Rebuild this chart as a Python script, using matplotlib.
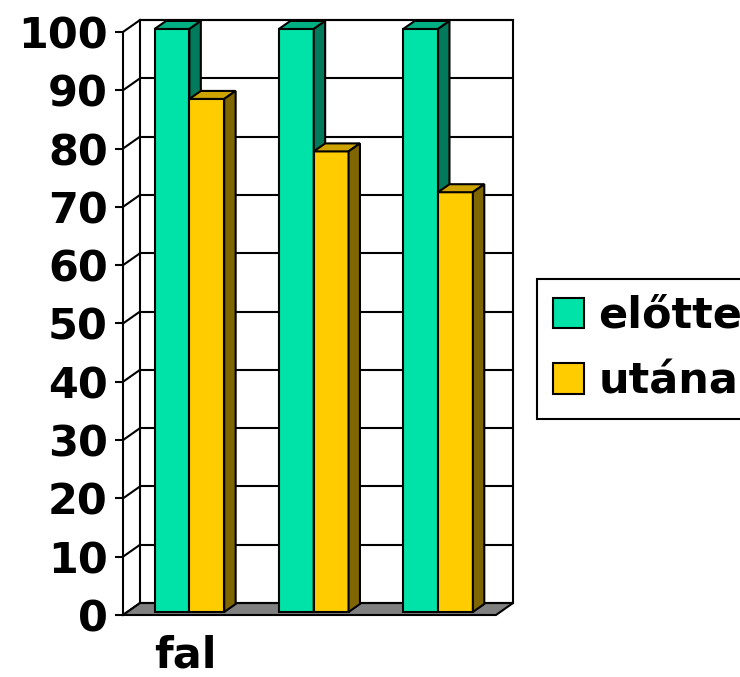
import matplotlib.pyplot as plt
from matplotlib.patches import Polygon, Patch

categories = ['fal', '', '']
series_names = ['előtte', 'utána']
before = [100, 100, 100]
after = [88, 79, 72]
yticks = list(range(0, 101, 10))

face_colors = ['#00E3A8', '#FFCC00']
top_colors = ['#00B083', '#CCA300']
side_colors = ['#007A5A', '#806600']

# oblique depth of the chart box (data units) and the slab the bars occupy
DX, DY = 0.137, 2.05
D0, D1 = 0.25, 0.92
W = 0.28
LW = 1.5
FS = 31


def proj(x, y, d):
    return (x + d * DX, y + d * DY)


plt.rcParams['font.family'] = 'DejaVu Sans'
plt.rcParams['font.weight'] = 'bold'

fig = plt.figure(figsize=(7.4, 6.77), dpi=100)
ax = fig.add_axes([123 / 740, 62 / 677, 390 / 740, 595 / 677])
ax.set_xlim(-0.5, 2.5 + DX)
ax.set_ylim(0, 100 + DY)

x_lo, x_hi = -0.5, len(categories) - 0.5

# back wall
ax.add_patch(Polygon([proj(x_lo, 0, 1), proj(x_hi, 0, 1), proj(x_hi, 100, 1), proj(x_lo, 100, 1)],
                     closed=True, facecolor='white', edgecolor='black', lw=LW, zorder=0.5, clip_on=False))
# gridlines on the back wall and on the left side wall
for t in yticks:
    bx0, by = proj(x_lo, t, 1)
    bx1, _ = proj(x_hi, t, 1)
    ax.plot([bx0, bx1], [by, by], color='black', lw=LW, zorder=1, clip_on=False)
    ax.plot([x_lo, bx0], [t, by], color='black', lw=LW, zorder=1, clip_on=False)

# floor
ax.add_patch(Polygon([proj(x_lo, 0, 0), proj(x_hi, 0, 0), proj(x_hi, 0, 1), proj(x_lo, 0, 1)],
                     closed=True, facecolor='#808080', edgecolor='black', lw=LW, zorder=1.5, clip_on=False))

# bars: front face via ax.bar, top and right side as polygons
z = 3
for i in range(len(categories)):
    for j, vals in enumerate([before, after]):
        v = vals[i]
        x0 = i - W + j * W
        fx, fy = proj(x0, 0, D0)
        ax.bar(fx, v, width=W, bottom=fy, align='edge', color=face_colors[j],
               edgecolor='black', lw=LW, zorder=z)
        ax.add_patch(Polygon([proj(x0, v, D0), proj(x0 + W, v, D0), proj(x0 + W, v, D1), proj(x0, v, D1)],
                             closed=True, facecolor=top_colors[j], edgecolor='black', lw=LW, zorder=z))
        ax.add_patch(Polygon([proj(x0 + W, 0, D0), proj(x0 + W, 0, D1), proj(x0 + W, v, D1), proj(x0 + W, v, D0)],
                             closed=True, facecolor=side_colors[j], edgecolor='black', lw=LW, zorder=z))
        z += 1

for s in ['top', 'right', 'bottom']:
    ax.spines[s].set_visible(False)
ax.spines['left'].set_bounds(0, 100)
ax.spines['left'].set_linewidth(LW)
ax.spines['left'].set_zorder(2)

ax.set_yticks(yticks)
ax.set_yticklabels([str(t) for t in yticks], fontsize=FS, fontweight='bold')
ax.tick_params(axis='y', length=6, width=LW, pad=5, direction='out')
ax.set_xticks(range(len(categories)))
ax.set_xticklabels(categories, fontsize=FS, fontweight='bold')
ax.tick_params(axis='x', length=0, pad=14)

handles = [Patch(facecolor=c, edgecolor='black', lw=LW) for c in face_colors]
leg = fig.legend(handles, series_names, loc='upper left',
                 bbox_to_anchor=(537 / 740, 1 - 279 / 677), bbox_transform=fig.transFigure,
                 borderaxespad=0, fancybox=False, framealpha=1, edgecolor='black',
                 prop={'size': FS, 'weight': 'bold'}, handlelength=0.72, handleheight=0.72,
                 handletextpad=0.33, labelspacing=0.55, borderpad=0.37)
leg.get_frame().set_linewidth(LW)

fig.savefig('out.png', dpi=100)
